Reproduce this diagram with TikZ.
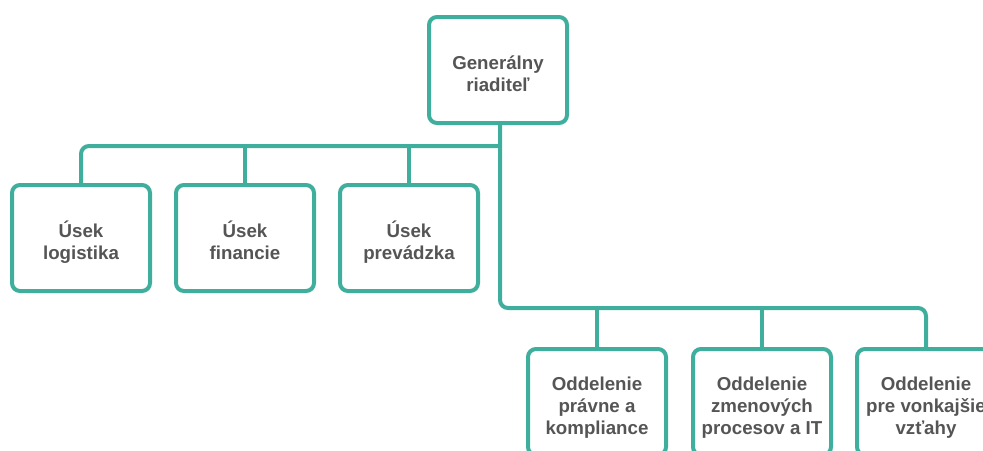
\documentclass[tikz,border=0pt]{standalone}
\usepackage{fontspec}
\setmainfont{Liberation Sans}
\definecolor{tealline}{HTML}{3FAE9D}
\definecolor{txtgray}{HTML}{555555}
\newcommand{\toprule}{\rule{0pt}{26pt}}
\newcommand{\botrule}{\rule[-6pt]{0pt}{6pt}}
\tikzset{
  orgbox/.style={draw=tealline, line width=4pt, rounded corners=8pt, fill=white,
    minimum width=138pt, minimum height=106pt, align=center, inner sep=0pt,
    text=txtgray, font=\bfseries\fontsize{18.7}{22}\selectfont},
  conn/.style={draw=tealline, line width=4pt, rounded corners=8pt}
}
\begin{document}
\begin{tikzpicture}[x=1pt,y=-1pt]
\useasboundingbox (0,0) rectangle (983,450);
\clip (0,0) rectangle (983,450);
\fill[white] (0,0) rectangle (983,450);
\node[orgbox] (gen) at (498,70) {\toprule Generálny\\riaditeľ\botrule};
\node[orgbox] (u1) at (81,238) {\toprule Úsek\\logistika\botrule};
\node[orgbox] (u2) at (245,238) {\toprule Úsek\\financie\botrule};
\node[orgbox] (u3) at (409,238) {\toprule Úsek\\prevádzka\botrule};
\node[orgbox] (d1) at (597,402) {\toprule Oddelenie\\právne a\\kompliance\botrule};
\node[orgbox] (d2) at (762,402) {\toprule Oddelenie\\zmenových\\procesov a IT\botrule};
\node[orgbox] (d3) at (926,402) {\toprule Oddelenie\\pre vonkajšie\\vzťahy\botrule};
\coordinate (b1) at (500,146);
\coordinate (b2) at (500,308);
\draw[conn] (u1.north) |- (b1);
\draw[conn] (u2.north) -- (u2.north |- b1);
\draw[conn] (u3.north) -- (u3.north |- b1);
\draw[conn] (gen.south -| b1) -- (b2) -| (d3.north);
\draw[conn] (d1.north) -- (d1.north |- b2);
\draw[conn] (d2.north) -- (d2.north |- b2);
\end{tikzpicture}
\end{document}
